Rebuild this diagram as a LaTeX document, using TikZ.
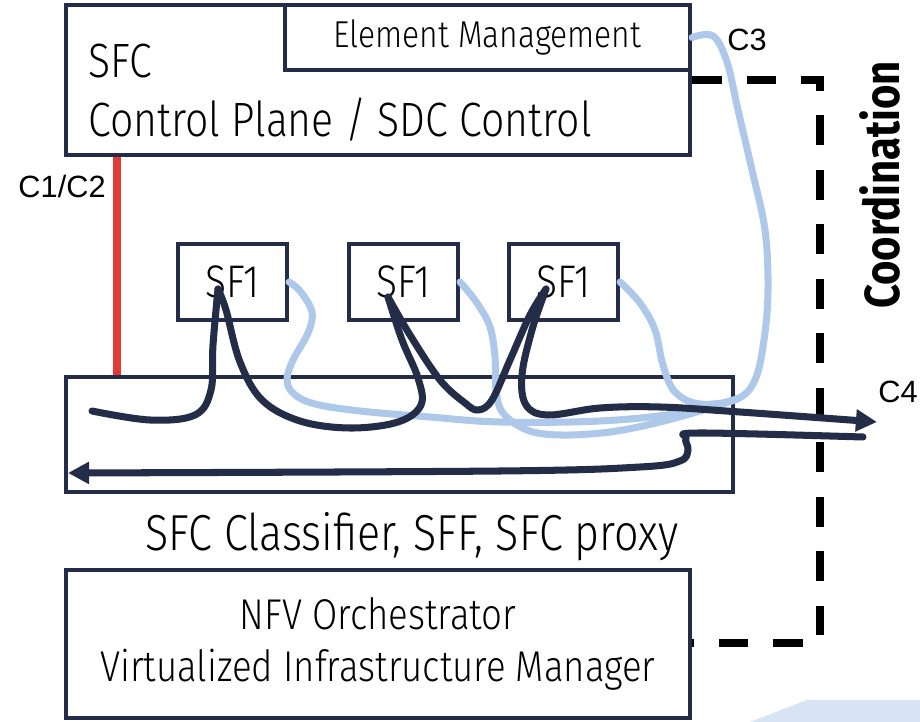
\documentclass[tikz,border=0pt]{standalone}
\usepackage{fontspec}
\setmainfont{Fira Sans}[UprightFont=* Light, BoldFont=* Bold, FakeStretch=0.85]
\newfontfamily\labelfont{Liberation Sans}
\usetikzlibrary{arrows.meta,positioning,calc}
\definecolor{navy}{RGB}{35,45,72}
\definecolor{skyline}{RGB}{174,200,234}
\definecolor{sigred}{RGB}{229,57,53}
\definecolor{haze}{RGB}{216,227,243}
\begin{document}
\begin{tikzpicture}[x=0.02cm, y=0.02cm,
        box/.style={draw=navy, line width=2.4pt, inner sep=0pt},
        sfbox/.style={box, minimum width=2.18cm, minimum height=1.52cm, font=\fontsize{26}{30}\selectfont},
        fwd/.style={draw=navy, line width=4pt, line cap=round, line join=round},
        ctl/.style={draw=skyline, line width=4pt, line cap=round, line join=round},
        tag/.style={font=\labelfont\fontsize{17.5}{20}\selectfont, inner sep=0pt},
        big/.style={font=\fontsize{27.4}{33}\selectfont, inner sep=0pt}]
        \useasboundingbox (0,0) rectangle (920,-722);
        \fill [haze] (750,-722) -- (807,-700) -- (920,-700) -- (920,-722) -- cycle;
        \node [box, minimum width=12.48cm, minimum height=3cm] (cp) at (378,-80) {};
        \node [box, minimum width=8.1cm, minimum height=1.3cm, font=\fontsize{21.3}{24}\selectfont] (em) at (487.5,-37.5) {Element Management};
        \node [big, anchor=base west] (cptitle) at (88,-78) {SFC};
        \node [big, anchor=base west] (cpname) at (88,-137) {Control Plane / SDC Control};
        \node [sfbox] (sf1a) at (232.5,-282) {SF1};
        \node [sfbox] (sf1b) at (403.5,-282) {SF1};
        \node [sfbox] (sf1c) at (563.5,-282) {SF1};
        \node [box, minimum width=13.34cm, minimum height=2.3cm] (cls) at (399.5,-434.5) {};
        \node [big, anchor=base, font=\fontsize{28.8}{33}\selectfont] (clsname) at (412,-551) {SFC Classifier, SFF, SFC proxy};
        \node [box, minimum width=12.48cm, minimum height=2.96cm, align=center, font=\fontsize{24.5}{29.6}\selectfont] (nfv) at (378,-644) {NFV Orchestrator\\Virtualized Infrastructure Manager};
        \node [tag, anchor=east] (c12) at (106,-187) {C1/C2};
        \node [tag, anchor=west] (c3) at (727,-40) {C3};
        \node [tag, anchor=west] (c4) at (878,-392) {C4};
        \node [font=\bfseries\fontsize{28}{30}\selectfont, rotate=90, inner sep=0pt] (coordname) at (880,-185) {Coordination};
        \coordinate (redx) at (117,0);
        \draw [sigred, line width=4pt] (cp.south -| redx) -- (cls.north -| redx);
        \coordinate (dtop) at (820,-80);
        \coordinate (dbot) at (820,-643);
        \draw [black, line width=4pt, dash pattern=on 17pt off 14pt] (cp.east |- dtop) -- (dtop) -- (dbot) -- (nfv.east |- dbot);
        \coordinate (lbm) at (737,-399);
        \draw [ctl] plot [smooth, tension=0.6] coordinates {(sf1a.east) (300,-291) (312,-312) (308,-333) (293,-360) (287,-380) (294,-394) (315,-404) (360,-411) (430,-417) (500,-422) (600,-421) (680,-413) (lbm)};
        \draw [ctl] plot [smooth, tension=0.6] coordinates {(sf1b.east) (477,-303) (490,-327) (495,-357) (496,-390) (503,-413) (527,-430) (560,-435) (610,-432) (660,-422) (710,-408) (lbm)};
        \draw [ctl] plot [smooth, tension=0.6] coordinates {(sf1c.east) (640,-303) (655,-330) (663,-365) (675,-392) (700,-404) (lbm) (755,-380) (764,-340) (768,-290) (765,-230) (752,-170) (738,-110) (727,-62) (713,-36) (em.east)};
        \coordinate (fwdin) at (92,-411);
        \coordinate (ta) at (218,-289);
        \coordinate (tb) at (388,-297);
        \coordinate (tc) at (546,-289);
        \coordinate (fwdout) at (877,-422);
        \coordinate (retin) at (863,-437);
        \coordinate (retout) at (68,-473);
        \draw [fwd] plot [smooth, tension=0.6] coordinates {(fwdin) (150,-420) (195,-415) (211,-390) (213,-345) (ta)};
        \draw [fwd] plot [smooth, tension=0.6] coordinates {(ta) (226,-310) (240,-362) (262,-400) (300,-421) (350,-428) (398,-422) (421,-405) (418,-378) (402,-340) (tb)};
        \draw [fwd] plot [smooth, tension=0.6] coordinates {(tb) (410,-335) (440,-380) (465,-403) (478,-410) (492,-400) (510,-360) (530,-315) (tc)};
        \draw [fwd, -{Triangle[length=12pt,width=12pt]}] plot [smooth, tension=0.6] coordinates {(tc) (532,-330) (522,-375) (526,-405) (548,-415) (600,-408) (660,-407) (740,-412) (fwdout)};
        \draw [fwd, -{Triangle[length=12pt,width=12pt]}] plot [smooth, tension=0.6] coordinates {(retin) (700,-433) (686,-438) (688,-450) (680,-461) (640,-467) (500,-471) (retout)};
\end{tikzpicture}
\end{document}
